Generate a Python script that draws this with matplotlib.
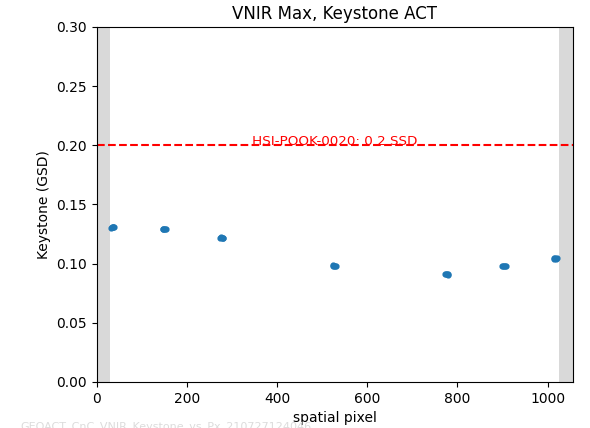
import matplotlib
matplotlib.use("Agg")
import matplotlib.pyplot as plt

# cluster data: spatial pixel and keystone (GSD)
px_clusters = [
    [31, 33, 35, 37, 39],
    [146, 148, 150, 152, 154],
    [273, 275, 277, 279, 281],
    [523, 525, 527, 529, 531],
    [772, 774, 776, 778, 780],
    [899, 901, 903, 905, 907],
    [1013, 1015, 1017, 1019, 1021],
]
ks_clusters = [
    [0.1305, 0.1310, 0.1308, 0.1306, 0.1309],
    [0.1292, 0.1296, 0.1294, 0.1290, 0.1293],
    [0.1218, 0.1222, 0.1220, 0.1216, 0.1219],
    [0.0982, 0.0986, 0.0984, 0.0980, 0.0983],
    [0.0910, 0.0914, 0.0912, 0.0908, 0.0911],
    [0.0978, 0.0982, 0.0980, 0.0976, 0.0979],
    [0.1043, 0.1047, 0.1045, 0.1041, 0.1044],
]
req_value = 0.2
req_label = "HSI-POOK-0020: 0.2 SSD"
x_max = 1056
edge_width = 30

fig = plt.figure(figsize=(5.9, 4.28), dpi=100)
ax = fig.add_axes([0.164, 0.1075, 0.807, 0.8295])

ax.axvspan(0, edge_width, color="#d9d9d9", zorder=0, lw=0)
ax.axvspan(x_max - edge_width, x_max, color="#d9d9d9", zorder=0, lw=0)

for xs, ys in zip(px_clusters, ks_clusters):
    ax.scatter(xs, ys, s=12, color="#1f77b4", zorder=3)

ax.axhline(req_value, color="red", ls="--", lw=1.5)
ax.text(x_max / 2, req_value + 0.003, req_label, color="red", ha="center", va="center", fontsize=9.7)

ax.set_xlim(0, x_max)
ax.set_ylim(0, 0.3)
ax.set_xticks([0, 200, 400, 600, 800, 1000])
ax.set_yticks([0.0, 0.05, 0.10, 0.15, 0.20, 0.25, 0.30])
ax.set_yticklabels(["0.00", "0.05", "0.10", "0.15", "0.20", "0.25", "0.30"])
ax.set_title("VNIR Max, Keystone ACT")
ax.set_xlabel("spatial pixel")
ax.set_ylabel("Keystone (GSD)")

fig.text(20 / 590, -1 / 428, "GEOACT_CnC_VNIR_Keystone_vs_Px_210727124046",
         color="#dcdcdc", fontsize=8, ha="left", va="baseline")

fig.savefig("out.png", dpi=100)
